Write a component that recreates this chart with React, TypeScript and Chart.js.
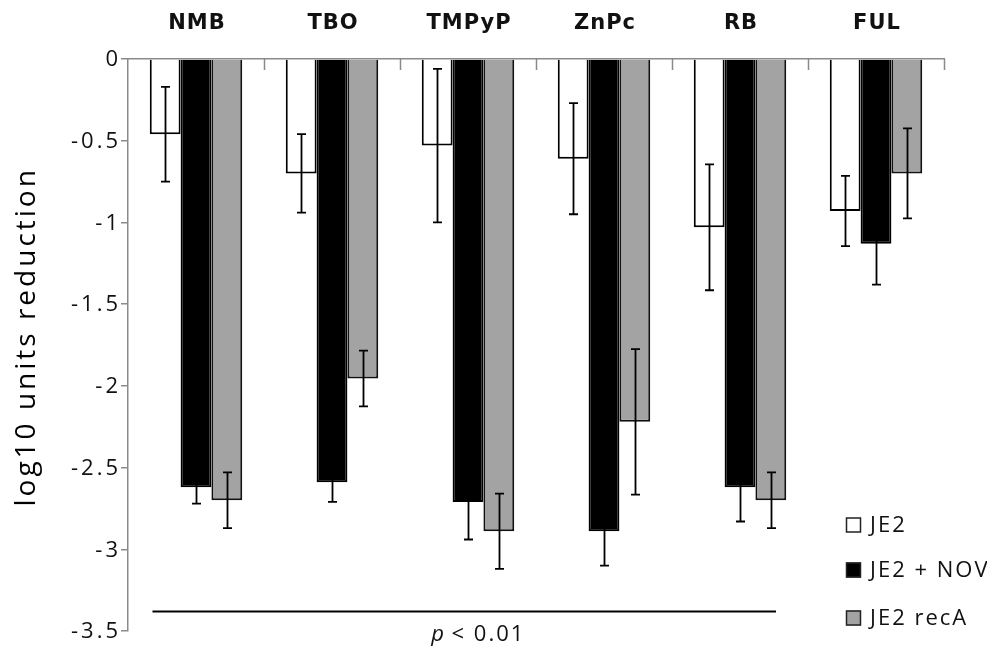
import React, { useEffect, useRef } from "react";
import { Chart, registerables } from "chart.js";

Chart.register(...registerables);

const categories = ["NMB", "TBO", "TMPyP", "ZnPc", "RB", "FUL"];
const seriesNames = ["JE2", "JE2 + NOV", "JE2 recA"];
const je2 = [-0.46, -0.7, -0.53, -0.61, -1.03, -0.93];
const je2Err = [0.29, 0.24, 0.47, 0.34, 0.385, 0.215];
const je2Nov = [-2.62, -2.59, -2.71, -2.89, -2.62, -1.13];
const je2NovErr = [0.1, 0.12, 0.23, 0.21, 0.21, 0.25];
const je2RecA = [-2.7, -1.955, -2.89, -2.22, -2.7, -0.7];
const je2RecAErr = [0.17, 0.17, 0.23, 0.445, 0.17, 0.275];
const yTickValues = [0, -0.5, -1, -1.5, -2, -2.5, -3, -3.5];
const yTitle = "log10 units reduction";
const sigLevel = -3.38;
const sigText = "< 0.01";

const errors = [je2Err, je2NovErr, je2RecAErr];
const fills = ["#ffffff", "#000000", "#a3a3a3"];
const AXIS = "#8a8a8a";

const fmt = (v: number) => (v === 0 ? "0" : String(v));

const drawPlugin = {
  id: "custom",
  afterDatasetsDraw(chart: any) {
    const ctx = chart.ctx;
    const ys = chart.scales.y;
    ctx.save();
    ctx.strokeStyle = "#000";
    ctx.lineWidth = 1.8;
    chart.data.datasets.forEach((ds: any, di: number) => {
      const meta = chart.getDatasetMeta(di);
      meta.data.forEach((bar: any, i: number) => {
        const v = ds.data[i];
        const e = errors[di][i];
        const x = Math.round(bar.x) + 0.5;
        const y1 = ys.getPixelForValue(v + e);
        const y2 = ys.getPixelForValue(v - e);
        ctx.beginPath();
        ctx.moveTo(x, y1);
        ctx.lineTo(x, y2);
        ctx.moveTo(x - 4.5, y1);
        ctx.lineTo(x + 4.5, y1);
        ctx.moveTo(x - 4.5, y2);
        ctx.lineTo(x + 4.5, y2);
        ctx.stroke();
      });
    });
    ctx.restore();
  },
  afterDraw(chart: any) {
    const ctx = chart.ctx;
    const xs = chart.scales.x;
    const ys = chart.scales.y;
    const area = chart.chartArea;
    const n = categories.length;
    const cw = (area.right - area.left) / n;
    ctx.save();
    // inward ticks on top axis
    ctx.strokeStyle = AXIS;
    ctx.lineWidth = 1.5;
    for (let i = 1; i <= n; i++) {
      const x = Math.round(xs.getPixelForValue(i - 1) + cw / 2) + 0.5;
      ctx.beginPath();
      ctx.moveTo(x, area.top);
      ctx.lineTo(x, area.top + 11);
      ctx.stroke();
    }
    // category labels
    ctx.fillStyle = "#111";
    ctx.font = 'bold 21px "DejaVu Sans"';
    (ctx as any).letterSpacing = "1px";
    ctx.textAlign = "center";
    ctx.textBaseline = "middle";
    categories.forEach((c, i) => {
      ctx.fillText(c, xs.getPixelForValue(i) + 1, area.top - 35);
    });
    // y tick labels
    ctx.font = '22px "Open Sans"';
    (ctx as any).letterSpacing = "3px";
    ctx.textAlign = "right";
    ctx.fillStyle = "#111";
    yTickValues.forEach((v) => {
      ctx.fillText(fmt(v), area.left - 10 + 3, ys.getPixelForValue(v) + 1);
    });
    // y title
    ctx.save();
    ctx.translate(27, ys.getPixelForValue(-1.7));
    ctx.rotate(-Math.PI / 2);
    ctx.font = '500 28px "Open Sans"';
    (ctx as any).letterSpacing = "3px";
    ctx.textAlign = "center";
    ctx.fillStyle = "#000";
    ctx.fillText(yTitle, 0, 0);
    ctx.restore();
    // legend
    const lx = area.right - 98;
    const lys = [525, 570, 618];
    ctx.font = '22px "Open Sans"';
    (ctx as any).letterSpacing = "2px";
    ctx.textAlign = "left";
    seriesNames.forEach((s, i) => {
      ctx.fillStyle = fills[i];
      ctx.fillRect(lx, lys[i] - 7.5, 15, 15);
      ctx.strokeStyle = "#222";
      ctx.lineWidth = 1.5;
      ctx.strokeRect(lx + 0.5, lys[i] - 7, 14, 14);
      ctx.fillStyle = "#111";
      ctx.fillText(s, lx + 24, lys[i] + 1);
    });
    // significance line
    const sy = Math.round(ys.getPixelForValue(sigLevel)) + 0.5;
    const sx1 = xs.getPixelForValue(0) - cw * 0.32;
    const sx2 = xs.getPixelForValue(4) + cw * 0.265;
    ctx.strokeStyle = "#000";
    ctx.lineWidth = 2;
    ctx.beginPath();
    ctx.moveTo(sx1, sy);
    ctx.lineTo(sx2, sy);
    ctx.stroke();
    // p-value text
    const cx = (sx1 + sx2) / 2 + 14;
    ctx.textBaseline = "alphabetic";
    ctx.fillStyle = "#111";
    ctx.font = 'italic 22px "Open Sans"';
    (ctx as any).letterSpacing = "1px";
    const pw = ctx.measureText("p ").width;
    ctx.font = '22px "Open Sans"';
    (ctx as any).letterSpacing = "2px";
    const tw = ctx.measureText(sigText).width;
    const start = cx - (pw + tw) / 2;
    ctx.textAlign = "left";
    ctx.font = 'italic 22px "Open Sans"';
    (ctx as any).letterSpacing = "1px";
    ctx.fillText("p ", start, sy + 29);
    ctx.font = '22px "Open Sans"';
    (ctx as any).letterSpacing = "2px";
    ctx.fillText(sigText, start + pw, sy + 29);
    (ctx as any).letterSpacing = "0px";
    ctx.restore();
  },
};

export default function App() {
  const ref = useRef<HTMLCanvasElement | null>(null);
  useEffect(() => {
    document.body.style.margin = "0";
    const canvas = ref.current!;
    const chart = new Chart(canvas, {
      type: "bar",
      data: {
        labels: categories,
        datasets: [
          { label: seriesNames[0], data: je2, backgroundColor: fills[0], borderColor: "#000", borderWidth: 2 },
          { label: seriesNames[1], data: je2Nov, backgroundColor: fills[1], borderColor: "#000", borderWidth: 2 },
          { label: seriesNames[2], data: je2RecA, backgroundColor: fills[2], borderColor: "#111", borderWidth: 2 },
        ],
      },
      options: {
        responsive: false,
        animation: false,
        layout: { padding: { left: 0, top: 0, right: 43, bottom: 15 } },
        plugins: { legend: { display: false }, tooltip: { enabled: false } },
        datasets: { bar: { categoryPercentage: 0.68, barPercentage: 1 } },
        scales: {
          x: {
            position: "top",
            grid: { display: false },
            border: { display: true, color: AXIS, width: 1.5 },
            ticks: { display: false },
            afterFit: (s: any) => {
              s.height = 59;
            },
          },
          y: {
            min: -3.5,
            max: 0,
            ticks: { stepSize: 0.5, display: false },
            grid: { drawOnChartArea: false, drawTicks: true, tickLength: 7, color: AXIS, lineWidth: 1.5 },
            border: { display: true, color: AXIS, width: 1.5 },
            afterFit: (s: any) => {
              s.width = 128;
            },
          },
        },
      } as any,
      plugins: [drawPlugin],
    });
    return () => chart.destroy();
  }, []);
  return (
    <div style={{ width: 987, height: 646, background: "#fff" }}>
      <canvas ref={ref} width={987} height={646} />
    </div>
  );
}
